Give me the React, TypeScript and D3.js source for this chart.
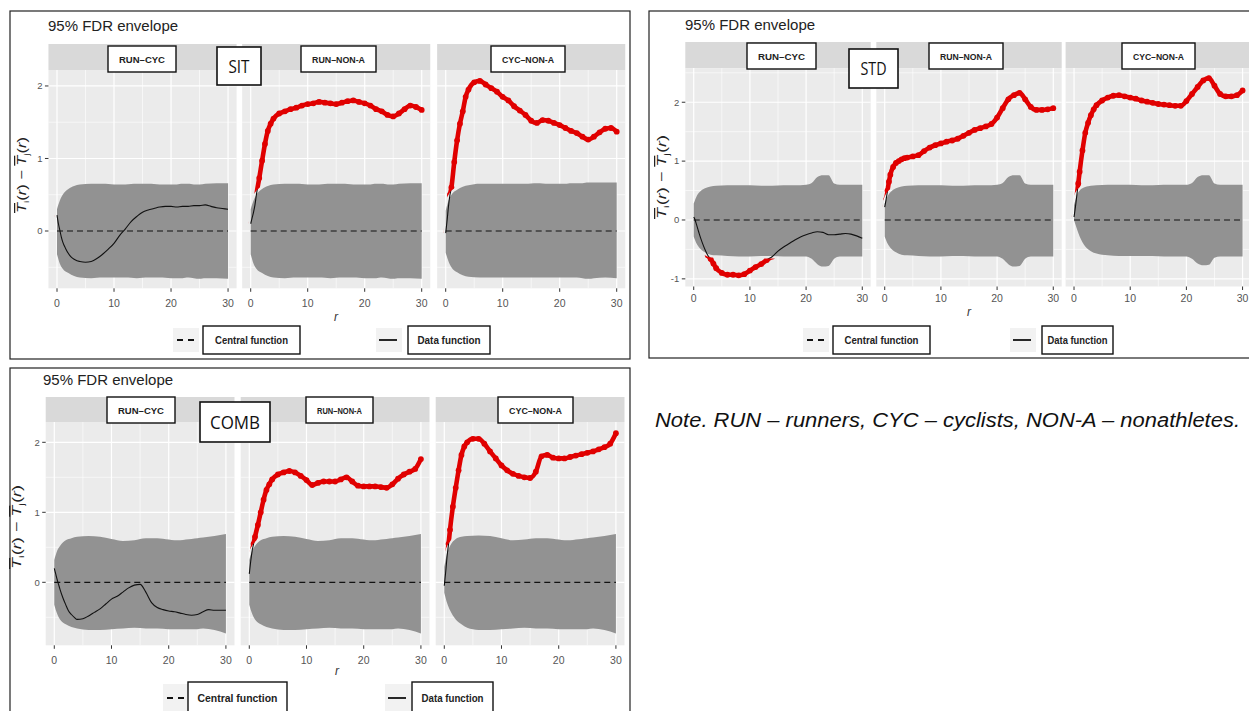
import React from 'react';
import * as d3 from 'd3';

// ---------- data ----------
const panelLabels = ['RUN–CYC', 'RUN–NON-A', 'CYC–NON-A'];
const figureLabels = ['SIT', 'STD', 'COMB'];
const legendLabels = ['Central function', 'Data function'];
const titleText = '95% FDR envelope';
const noteText = 'Note. RUN – runners, CYC – cyclists, NON-A – nonathletes.';
const xTicks = [0, 10, 20, 30];
const xMinorTicks = [5, 15, 25];

const dataR = [0, 0.25, 0.5, 0.75, 1, 1.5, 2, 2.5, 3, 3.5, 4, 5, 6, 7, 8, 9, 10, 11, 12, 13, 14, 15, 16, 17, 18, 19, 20, 21, 22, 23, 24, 25, 26, 27, 28, 29, 30];
const envR = [0, 0.5, 1, 2, 3, 4, 6, 8, 10, 12, 14, 16, 18, 20, 21, 22, 23, 24, 25, 26, 28, 30];

// SIT
const sitRunCyc = [0.22, 0.1, 0.01, -0.08, -0.15, -0.24, -0.31, -0.36, -0.39, -0.41, -0.42, -0.43, -0.42, -0.38, -0.32, -0.25, -0.17, -0.06, 0.03, 0.13, 0.2, 0.26, 0.29, 0.31, 0.33, 0.34, 0.34, 0.33, 0.34, 0.34, 0.35, 0.35, 0.36, 0.34, 0.32, 0.31, 0.3];
const sitRunNonA = [0.1, 0.18, 0.26, 0.36, 0.5, 0.73, 0.97, 1.2, 1.38, 1.48, 1.55, 1.62, 1.65, 1.68, 1.7, 1.73, 1.75, 1.76, 1.78, 1.77, 1.76, 1.75, 1.77, 1.79, 1.8, 1.78, 1.76, 1.73, 1.68, 1.65, 1.6, 1.58, 1.62, 1.68, 1.73, 1.71, 1.67];
const sitCycNonA = [-0.03, 0.15, 0.35, 0.5, 0.6, 0.95, 1.25, 1.48, 1.65, 1.85, 1.95, 2.05, 2.07, 2.02, 1.97, 1.92, 1.85, 1.8, 1.72, 1.66, 1.6, 1.52, 1.49, 1.53, 1.52, 1.49, 1.46, 1.42, 1.38, 1.35, 1.3, 1.26, 1.3, 1.36, 1.41, 1.42, 1.37];
const sitEnvUpper = [0.30, 0.42, 0.50, 0.58, 0.62, 0.64, 0.65, 0.65, 0.64, 0.64, 0.65, 0.65, 0.64, 0.64, 0.64, 0.65, 0.65, 0.64, 0.64, 0.65, 0.66, 0.66];
const sitEnvLower = [-0.32, -0.45, -0.52, -0.58, -0.62, -0.64, -0.65, -0.64, -0.64, -0.64, -0.65, -0.64, -0.64, -0.65, -0.65, -0.65, -0.64, -0.65, -0.66, -0.65, -0.65, -0.66];
const sitEnvUpper3 = [0.28, 0.42, 0.50, 0.57, 0.61, 0.63, 0.65, 0.65, 0.65, 0.65, 0.65, 0.66, 0.65, 0.65, 0.65, 0.66, 0.66, 0.66, 0.67, 0.67, 0.67, 0.67];
const sitEnvLower3 = [-0.30, -0.42, -0.50, -0.57, -0.61, -0.63, -0.64, -0.64, -0.64, -0.64, -0.64, -0.64, -0.64, -0.64, -0.64, -0.64, -0.64, -0.65, -0.66, -0.65, -0.64, -0.65];

// STD
const stdRunCyc = [0.05, 0.0, -0.08, -0.16, -0.24, -0.38, -0.5, -0.6, -0.66, -0.74, -0.82, -0.9, -0.93, -0.93, -0.94, -0.92, -0.86, -0.8, -0.75, -0.68, -0.62, -0.53, -0.46, -0.4, -0.34, -0.29, -0.25, -0.22, -0.2, -0.21, -0.25, -0.25, -0.24, -0.23, -0.24, -0.27, -0.31];
const stdRunNonA = [0.22, 0.35, 0.5, 0.65, 0.77, 0.9, 0.97, 1.0, 1.03, 1.05, 1.06, 1.08, 1.1, 1.17, 1.23, 1.27, 1.3, 1.33, 1.35, 1.38, 1.43, 1.48, 1.53, 1.56, 1.59, 1.63, 1.74, 1.9, 2.05, 2.12, 2.16, 2.05, 1.92, 1.87, 1.87, 1.88, 1.9];
const stdCycNonA = [0.05, 0.22, 0.42, 0.62, 0.82, 1.18, 1.48, 1.65, 1.78, 1.88, 1.95, 2.03, 2.08, 2.11, 2.12, 2.1, 2.08, 2.06, 2.03, 2.01, 1.99, 1.97, 1.96, 1.95, 1.94, 1.94, 2.02, 2.14, 2.26, 2.37, 2.41, 2.28, 2.14, 2.1, 2.1, 2.12, 2.2];
const stdEnvUpper = [0.28, 0.40, 0.47, 0.54, 0.57, 0.58, 0.59, 0.59, 0.59, 0.58, 0.58, 0.59, 0.59, 0.60, 0.63, 0.73, 0.76, 0.76, 0.62, 0.60, 0.60, 0.60];
const stdEnvLower = [-0.28, -0.40, -0.47, -0.55, -0.59, -0.60, -0.61, -0.62, -0.62, -0.61, -0.61, -0.62, -0.62, -0.62, -0.66, -0.75, -0.79, -0.78, -0.66, -0.62, -0.62, -0.62];
const stdEnvUpper3 = [0.25, 0.42, 0.50, 0.56, 0.58, 0.59, 0.60, 0.60, 0.60, 0.59, 0.59, 0.60, 0.60, 0.60, 0.63, 0.73, 0.76, 0.76, 0.62, 0.60, 0.60, 0.60];
const stdEnvLower3 = [0.0, -0.15, -0.28, -0.45, -0.53, -0.57, -0.60, -0.61, -0.61, -0.61, -0.61, -0.62, -0.62, -0.62, -0.66, -0.74, -0.77, -0.76, -0.64, -0.62, -0.62, -0.62];

// COMB
const combRunCyc = [0.2, 0.12, 0.04, -0.03, -0.1, -0.22, -0.32, -0.41, -0.46, -0.5, -0.53, -0.52, -0.48, -0.43, -0.38, -0.31, -0.24, -0.2, -0.14, -0.08, -0.04, -0.03, -0.14, -0.29, -0.36, -0.39, -0.41, -0.42, -0.44, -0.46, -0.47, -0.46, -0.42, -0.39, -0.4, -0.4, -0.4];
const combRunNonA = [0.12, 0.3, 0.45, 0.55, 0.65, 0.82, 1.0, 1.18, 1.32, 1.4, 1.47, 1.54, 1.57, 1.59, 1.57, 1.52, 1.46, 1.39, 1.42, 1.44, 1.44, 1.44, 1.47, 1.5, 1.44, 1.38, 1.37, 1.37, 1.37, 1.36, 1.35, 1.4, 1.48, 1.54, 1.58, 1.62, 1.76];
const combCycNonA = [-0.05, 0.15, 0.38, 0.55, 0.75, 1.08, 1.35, 1.6, 1.82, 1.94, 2.0, 2.05, 2.05, 1.98, 1.87, 1.77, 1.67, 1.6, 1.55, 1.52, 1.5, 1.49, 1.58, 1.8, 1.82, 1.78, 1.77, 1.77, 1.79, 1.81, 1.83, 1.85, 1.87, 1.9, 1.93, 1.98, 2.13];
const combEnvUpper = [0.32, 0.45, 0.52, 0.60, 0.63, 0.65, 0.66, 0.65, 0.62, 0.59, 0.60, 0.63, 0.63, 0.61, 0.60, 0.60, 0.61, 0.62, 0.63, 0.64, 0.66, 0.69];
const combEnvLower = [-0.32, -0.45, -0.53, -0.60, -0.64, -0.66, -0.68, -0.68, -0.67, -0.66, -0.65, -0.66, -0.66, -0.67, -0.67, -0.67, -0.67, -0.67, -0.67, -0.66, -0.68, -0.73];
const combEnvUpper3 = [0.22, 0.42, 0.52, 0.62, 0.65, 0.66, 0.67, 0.66, 0.63, 0.60, 0.61, 0.63, 0.63, 0.61, 0.60, 0.60, 0.61, 0.62, 0.63, 0.64, 0.66, 0.69];
const combEnvLower3 = [-0.15, -0.30, -0.40, -0.53, -0.60, -0.65, -0.68, -0.68, -0.67, -0.66, -0.65, -0.66, -0.66, -0.67, -0.67, -0.67, -0.67, -0.67, -0.67, -0.66, -0.68, -0.73];

// ---------- layout ----------
const figs = [
  {
    label: figureLabels[0],
    series: [sitRunCyc, sitRunNonA, sitCycNonA],
    envUpper: [sitEnvUpper, sitEnvUpper, sitEnvUpper3],
    envLower: [sitEnvLower, sitEnvLower, sitEnvLower3],
    border: { x: 10, y: 11, w: 620, h: 348 },
    title: { x: 48, y: 31 },
    stripTop: 44, panelTop: 70, panelBottom: 288.3,
    panelX: [[48.45, 236.6], [242.15, 430.25], [437.15, 625.25]],
    yDomain: [-0.79, 2.22], yTicks: [0, 1, 2], yMinor: [-0.5, 0.5, 1.5],
    xLabelY: 307, rTitle: { x: 336, y: 321 }, yTitle: { x: 26, y: 175, len: 76 },
    figBox: { x: 217, y: 47, w: 44, h: 38, tl: 21 },
    stripBoxes: [{ x: 108, w: 68 }, { x: 301, w: 75 }, { x: 491, w: 74 }], stripBoxY: 46,
    legend: { y: 326, h: 28, key1: 173, box1: { x: 203, w: 97, tl: 73 }, key2: 376, box2: { x: 408, w: 82, tl: 63 } },
  },
  {
    label: figureLabels[1],
    series: [stdRunCyc, stdRunNonA, stdCycNonA],
    envUpper: [stdEnvUpper, stdEnvUpper, stdEnvUpper3],
    envLower: [stdEnvLower, stdEnvLower, stdEnvLower3],
    border: { x: 649, y: 11, w: 610, h: 347 },
    title: { x: 685, y: 30 },
    stripTop: 42, panelTop: 68.1, panelBottom: 286.5,
    panelX: [[685.3, 870.7], [876.3, 1061.7], [1065.6, 1251]],
    yDomain: [-1.13, 2.58], yTicks: [-1, 0, 1, 2], yMinor: [-0.5, 0.5, 1.5, 2.5],
    xLabelY: 302, rTitle: { x: 969, y: 316 }, yTitle: { x: 666, y: 177, len: 84 },
    figBox: { x: 849, y: 49, w: 49, h: 39, tl: 26 },
    stripBoxes: [{ x: 747, w: 69 }, { x: 929, w: 74 }, { x: 1122, w: 73 }], stripBoxY: 43,
    legend: { y: 326, h: 28, key1: 803, box1: { x: 833, w: 97, tl: 74 }, key2: 1010, box2: { x: 1042, w: 71, tl: 60 } },
  },
  {
    label: figureLabels[2],
    series: [combRunCyc, combRunNonA, combCycNonA],
    envUpper: [combEnvUpper, combEnvUpper, combEnvUpper3],
    envLower: [combEnvLower, combEnvLower, combEnvLower3],
    border: { x: 10, y: 368, w: 620, h: 360 },
    title: { x: 43, y: 385 },
    stripTop: 397, panelTop: 422, panelBottom: 645.3,
    panelX: [[45.7, 234.5], [240.7, 429.5], [435.7, 624.5]],
    yDomain: [-0.9, 2.29], yTicks: [0, 1, 2], yMinor: [-0.5, 0.5, 1.5],
    xLabelY: 664, rTitle: { x: 337, y: 675 }, yTitle: { x: 21, y: 527, len: 84 },
    figBox: { x: 200, y: 402, w: 70, h: 40, tl: 50 },
    stripBoxes: [{ x: 107, w: 68 }, { x: 306, w: 67 }, { x: 498, w: 75 }], stripBoxY: 397,
    legend: { y: 682, h: 32, key1: 163, box1: { x: 188, w: 99, tl: 80 }, key2: 385, box2: { x: 412, w: 81, tl: 62 } },
  },
];

const ENV_FILL = '#929292';
const PANEL_BG = '#ebebeb';
const STRIP_BG = '#d9d9d9';
const RED = '#e00000';

function Panel({ f, fi, pi, y }: any) {
  const [x0, x1] = f.panelX[pi];
  const x = d3.scaleLinear().domain([-1.5, 31.5]).range([x0, x1]);
  const up: number[] = f.envUpper[pi];
  const lo: number[] = f.envLower[pi];
  const vals: number[] = f.series[pi];
  const top = f.panelTop;
  const bot = f.panelBottom;

  const area = d3.area<number>()
    .x((_, i) => x(envR[i]))
    .y0((_, i) => y(lo[i]))
    .y1((d) => y(d))
    .curve(d3.curveMonotoneX);
  const line = d3.line<number>()
    .x((_, i) => x(dataR[i]))
    .y((d) => y(d))
    .curve(d3.curveMonotoneX);
  const envPath = area(up) as string;
  const linePath = line(vals) as string;
  const upAt = d3.scaleLinear().domain(envR).range(up);
  const loAt = d3.scaleLinear().domain(envR).range(lo);
  const maskId = `mask${fi}_${pi}`;
  const clipId = `clip${fi}_${pi}`;
  const sb = f.stripBoxes[pi];

  const [yMin, yMax] = f.yDomain;
  return (
    <g>
      <defs>
        <clipPath id={clipId}>
          <rect x={x0} y={top} width={x1 - x0} height={bot - top} />
        </clipPath>
        <mask id={maskId} maskUnits="userSpaceOnUse" x={x0} y={top} width={x1 - x0} height={bot - top}>
          <rect x={x0} y={top} width={x1 - x0} height={bot - top} fill="white" />
          <path d={envPath} fill="black" stroke="black" strokeWidth={5} strokeLinejoin="round" />
        </mask>
      </defs>
      {/* strip */}
      <rect x={x0} y={f.stripTop} width={x1 - x0} height={top - f.stripTop} fill={STRIP_BG} />
      {/* panel */}
      <rect x={x0} y={top} width={x1 - x0} height={bot - top} fill={PANEL_BG} />
      {xMinorTicks.map((t) => (
        <line key={'xm' + t} x1={x(t)} x2={x(t)} y1={top} y2={bot} stroke="#fff" strokeWidth={0.6} />
      ))}
      {f.yMinor.filter((t: number) => t > yMin && t < yMax).map((t: number) => (
        <line key={'ym' + t} x1={x0} x2={x1} y1={y(t)} y2={y(t)} stroke="#fff" strokeWidth={0.6} />
      ))}
      {xTicks.map((t) => (
        <line key={'xg' + t} x1={x(t)} x2={x(t)} y1={top} y2={bot} stroke="#fff" strokeWidth={1.2} />
      ))}
      {f.yTicks.map((t: number) => (
        <line key={'yg' + t} x1={x0} x2={x1} y1={y(t)} y2={y(t)} stroke="#fff" strokeWidth={1.2} />
      ))}
      <g clipPath={`url(#${clipId})`}>
        <path d={envPath} fill={ENV_FILL} />
        <line x1={x(0)} x2={x(30)} y1={y(0)} y2={y(0)} stroke="#111" strokeWidth={1.2} strokeDasharray="6,4" />
        <path d={linePath} fill="none" stroke="#111" strokeWidth={1.1} />
        <g mask={`url(#${maskId})`}>
          <path d={linePath} fill="none" stroke={RED} strokeWidth={4.6} strokeLinejoin="round" strokeLinecap="butt" />
          {dataR.map((r, i) =>
            vals[i] > upAt(r) || vals[i] < loAt(r) ? (
              <circle key={'c' + i} cx={x(r)} cy={y(vals[i])} r={2.9} fill={RED} />
            ) : null
          )}
        </g>
      </g>
      {/* x ticks */}
      {xTicks.map((t) => (
        <g key={'xt' + t}>
          <line x1={x(t)} x2={x(t)} y1={bot} y2={bot + 3.5} stroke="#333" strokeWidth={1} />
          <text x={x(t)} y={f.xLabelY} fontSize={10.5} fill="#555" textAnchor="middle">{t}</text>
        </g>
      ))}
      {/* strip label box */}
      <rect x={sb.x} y={f.stripBoxY} width={sb.w} height={26} fill="#fff" stroke="#111" strokeWidth={1.4} />
      <text x={sb.x + sb.w / 2} y={f.stripBoxY + 16.5} fontSize={9.5} fontWeight="bold" fill="#222"
        textAnchor="middle" textLength={sb.w - 22} lengthAdjust="spacingAndGlyphs"
        fontFamily="'Liberation Sans Narrow', 'Arial Narrow', 'Liberation Sans', Arial, sans-serif">
        {panelLabels[pi]}
      </text>
    </g>
  );
}

function YTitle({ x, y, len }: any) {
  return (
    <text transform={`translate(${x},${y}) rotate(-90)`} textAnchor="middle" fontSize={12.5} fill="#222"
      textLength={len} lengthAdjust="spacingAndGlyphs">
      <tspan fontStyle="italic" style={{ textDecoration: 'overline' }}>T</tspan>
      <tspan fontSize={8} dy={3}>i</tspan>
      <tspan dy={-3}>(</tspan>
      <tspan fontStyle="italic">r</tspan>
      <tspan>{') − '}</tspan>
      <tspan fontStyle="italic" style={{ textDecoration: 'overline' }}>T</tspan>
      <tspan fontSize={8} dy={3}>j</tspan>
      <tspan dy={-3}>(</tspan>
      <tspan fontStyle="italic">r</tspan>
      <tspan>)</tspan>
    </text>
  );
}

function Figure({ f, fi }: any) {
  const y = d3.scaleLinear().domain(f.yDomain).range([f.panelBottom, f.panelTop]);
  const px0 = f.panelX[0][0];
  const lg = f.legend;
  const cy = lg.y + lg.h / 2;
  return (
    <g>
      <rect x={f.border.x} y={f.border.y} width={f.border.w} height={f.border.h} fill="#fff" stroke="#222" strokeWidth={1.2} />
      <text x={f.title.x} y={f.title.y} fontSize={15} fill="#222">{titleText}</text>
      {f.panelX.map((_: any, pi: number) => (
        <Panel key={pi} f={f} fi={fi} pi={pi} y={y} />
      ))}
      {/* y axis ticks */}
      {f.yTicks.map((t: number) => (
        <g key={'yt' + t}>
          <line x1={px0 - 3.5} x2={px0} y1={y(t)} y2={y(t)} stroke="#333" strokeWidth={1} />
          <text x={px0 - 6} y={y(t)} dy="0.35em" fontSize={9.5} fill="#555" textAnchor="end">{t}</text>
        </g>
      ))}
      <YTitle x={f.yTitle.x} y={f.yTitle.y} len={f.yTitle.len} />
      <text x={f.rTitle.x} y={f.rTitle.y} fontSize={12} fontStyle="italic" fill="#333" textAnchor="middle">r</text>
      {/* figure label */}
      <rect x={f.figBox.x} y={f.figBox.y} width={f.figBox.w} height={f.figBox.h} fill="#fff" stroke="#111" strokeWidth={1.6} />
      <text x={f.figBox.x + f.figBox.w / 2} y={f.figBox.y + f.figBox.h / 2} dy="0.36em" fontSize={19} fill="#111"
        textAnchor="middle" textLength={f.figBox.tl} lengthAdjust="spacingAndGlyphs" fontFamily="'Open Sans', 'Noto Sans', sans-serif">
        {f.label}
      </text>
      {/* legend */}
      <rect x={lg.key1} y={lg.y + 2} width={26} height={lg.h - 4} fill="#f2f2f2" />
      <line x1={lg.key1 + 4} x2={lg.key1 + 21} y1={cy} y2={cy} stroke="#111" strokeWidth={1.8} strokeDasharray="6,5" />
      <rect x={lg.box1.x} y={lg.y} width={lg.box1.w} height={lg.h} fill="#fff" stroke="#111" strokeWidth={1.4} />
      <text x={lg.box1.x + lg.box1.w / 2} y={cy} dy="0.35em" fontSize={11.5} fontWeight="bold" fill="#222" textAnchor="middle"
        textLength={lg.box1.tl} lengthAdjust="spacingAndGlyphs"
        fontFamily="'Liberation Sans Narrow', 'Arial Narrow', 'Liberation Sans', Arial, sans-serif">
        {legendLabels[0]}
      </text>
      <rect x={lg.key2} y={lg.y + 2} width={26} height={lg.h - 4} fill="#f2f2f2" />
      <line x1={lg.key2 + 3} x2={lg.key2 + 21} y1={cy} y2={cy} stroke="#111" strokeWidth={1.8} />
      <rect x={lg.box2.x} y={lg.y} width={lg.box2.w} height={lg.h} fill="#fff" stroke="#111" strokeWidth={1.4} />
      <text x={lg.box2.x + lg.box2.w / 2} y={cy} dy="0.35em" fontSize={11.5} fontWeight="bold" fill="#222" textAnchor="middle"
        textLength={lg.box2.tl} lengthAdjust="spacingAndGlyphs"
        fontFamily="'Liberation Sans Narrow', 'Arial Narrow', 'Liberation Sans', Arial, sans-serif">
        {legendLabels[1]}
      </text>
    </g>
  );
}

export default function App() {
  return (
    <svg width={1249} height={711} style={{ position: 'absolute', left: 0, top: 0, background: '#fff' }}
      fontFamily="'Liberation Sans', Arial, sans-serif">
      <rect x={0} y={0} width={1249} height={711} fill="#fff" />
      {figs.map((f, fi) => (
        <Figure key={fi} f={f} fi={fi} />
      ))}
      <text x={655} y={427} fontSize={20} fontStyle="italic" fill="#111" textLength={585} lengthAdjust="spacingAndGlyphs">
        {noteText}
      </text>
    </svg>
  );
}
